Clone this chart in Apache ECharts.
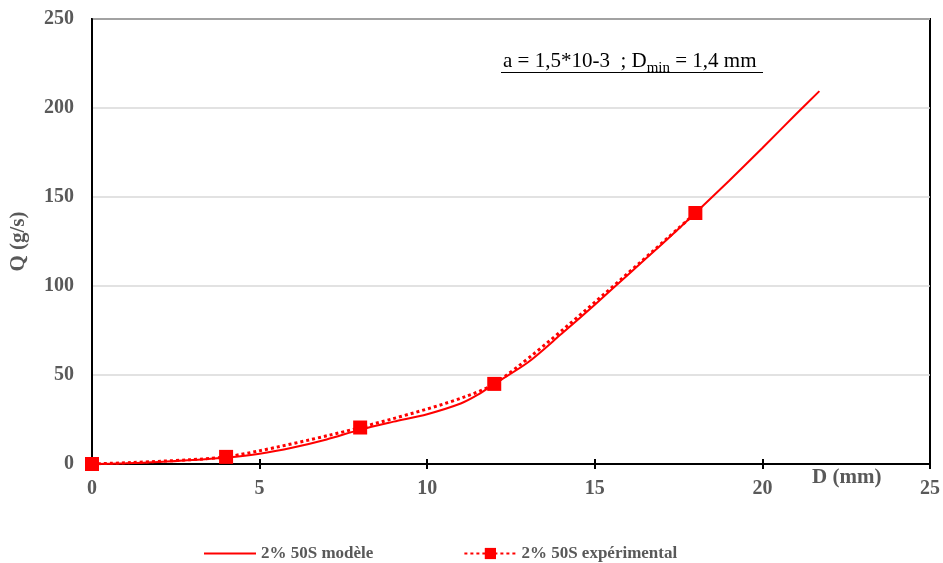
<!DOCTYPE html>
<html>
<head>
<meta charset="utf-8">
<script src="https://cdn.jsdelivr.net/npm/echarts@6/dist/echarts.min.js"></script>
<style>html,body{margin:0;padding:0;background:#fff}#c{width:943px;height:563px}</style>
</head>
<body>
<div id="c"></div>
<script>
// Data
var modelD = [0, 1, 2, 3, 4, 5, 6, 7, 8, 9, 10, 11, 11.5, 12, 13, 14, 15, 16, 17, 18, 19, 20, 21, 21.7];
var modelQ = [0, 0.4, 1.1, 2.2, 3.6, 5.8, 9.3, 13.8, 19.3, 23.8, 28, 34, 38.8, 45, 57, 73, 89.5, 106.5, 123.5, 141, 159, 177.5, 196.5, 209.5];
var expD = [0, 4, 8, 12, 18];
var expQ = [0, 4, 20.5, 45, 141];
var xTicks = [0, 5, 10, 15, 20, 25];
var yTicks = [0, 50, 100, 150, 200, 250];
var seriesNames = ['2% 50S modèle', '2% 50S expérimental'];

function pairs(xs, ys) { return xs.map(function (x, i) { return [x, ys[i]]; }); }

var FONT = '"Liberation Serif", "Times New Roman", serif';
var GRAY = '#595959';
var RED = '#ff0000';

var chart = echarts.init(document.getElementById('c'));
chart.setOption({
  animation: false,
  backgroundColor: '#fff',
  grid: { left: 90, right: 13, top: 19, bottom: 99, show: true, borderColor: '#000', borderWidth: 2, backgroundColor: 'transparent' },
  xAxis: [{
    type: 'value', min: xTicks[0], max: xTicks[xTicks.length - 1], interval: 5,
    axisLine: { lineStyle: { color: '#000', width: 2 } },
    axisTick: { show: true, length: 5, lineStyle: { color: '#000', width: 2 } },
    axisLabel: { color: GRAY, fontFamily: FONT, fontSize: 20, fontWeight: 'bold', margin: 15 },
    splitLine: { show: false }
  }, {
    type: 'value', min: xTicks[0], max: xTicks[xTicks.length - 1], interval: 5, position: 'bottom',
    axisLine: { show: false },
    axisTick: { show: true, inside: true, length: 5, lineStyle: { color: '#000', width: 2 } },
    axisLabel: { show: false },
    splitLine: { show: false }
  }],
  yAxis: {
    type: 'value', min: yTicks[0], max: yTicks[yTicks.length - 1], interval: 50,
    name: 'Q (g/s)', nameLocation: 'middle', nameGap: 63, nameRotate: 90,
    nameTextStyle: { color: GRAY, fontFamily: FONT, fontSize: 21, fontWeight: 'bold' },
    axisLine: { show: true, lineStyle: { color: '#000', width: 2 } },
    axisTick: { show: false },
    axisLabel: { color: GRAY, fontFamily: FONT, fontSize: 20, fontWeight: 'bold', margin: 18 },
    splitLine: { lineStyle: { color: '#d9d9d9', width: 1.5 } }
  },
  legend: {
    bottom: 1, left: 203, padding: 0, itemWidth: 52, itemHeight: 14, itemGap: 90,
    textStyle: { color: GRAY, fontFamily: FONT, fontSize: 17, fontWeight: 'bold' },
    data: [
      { name: seriesNames[0], itemStyle: { opacity: 0 } },
      { name: seriesNames[1] }
    ]
  },
  graphic: [
    {
      type: 'text', left: 503, top: 51,
      style: {
        text: '{n|a = 1,5*10-3  ; D}{s|min}{n| = 1,4 mm}',
        rich: {
          n: { fontFamily: FONT, fontSize: 21, fill: '#000', verticalAlign: 'bottom', padding: [0, 0, 4, 0] },
          s: { fontFamily: FONT, fontSize: 15, fill: '#000', verticalAlign: 'bottom' }
        }
      }
    },
    { type: 'line', shape: { x1: 501, y1: 72.5, x2: 763, y2: 72.5 }, style: { stroke: '#000', lineWidth: 1.2 } },
    {
      type: 'text', left: 812, top: 467,
      style: { text: 'D (mm)', fontFamily: FONT, fontSize: 21, fontWeight: 'bold', fill: GRAY }
    }
  ],
  series: [
    {
      name: seriesNames[0], type: 'line', data: pairs(modelD, modelQ), smooth: 0.3,
      showSymbol: false, symbol: 'none', z: 3,
      lineStyle: { color: RED, width: 2 }, itemStyle: { color: RED }
    },
    {
      name: seriesNames[1], type: 'line', data: pairs(expD, expQ), smooth: 0.2,
      symbol: 'rect', symbolSize: 14, z: 2,
      lineStyle: { color: RED, width: 3, type: [3, 3] }, itemStyle: { color: RED }
    }
  ]
});
</script>
</body>
</html>
